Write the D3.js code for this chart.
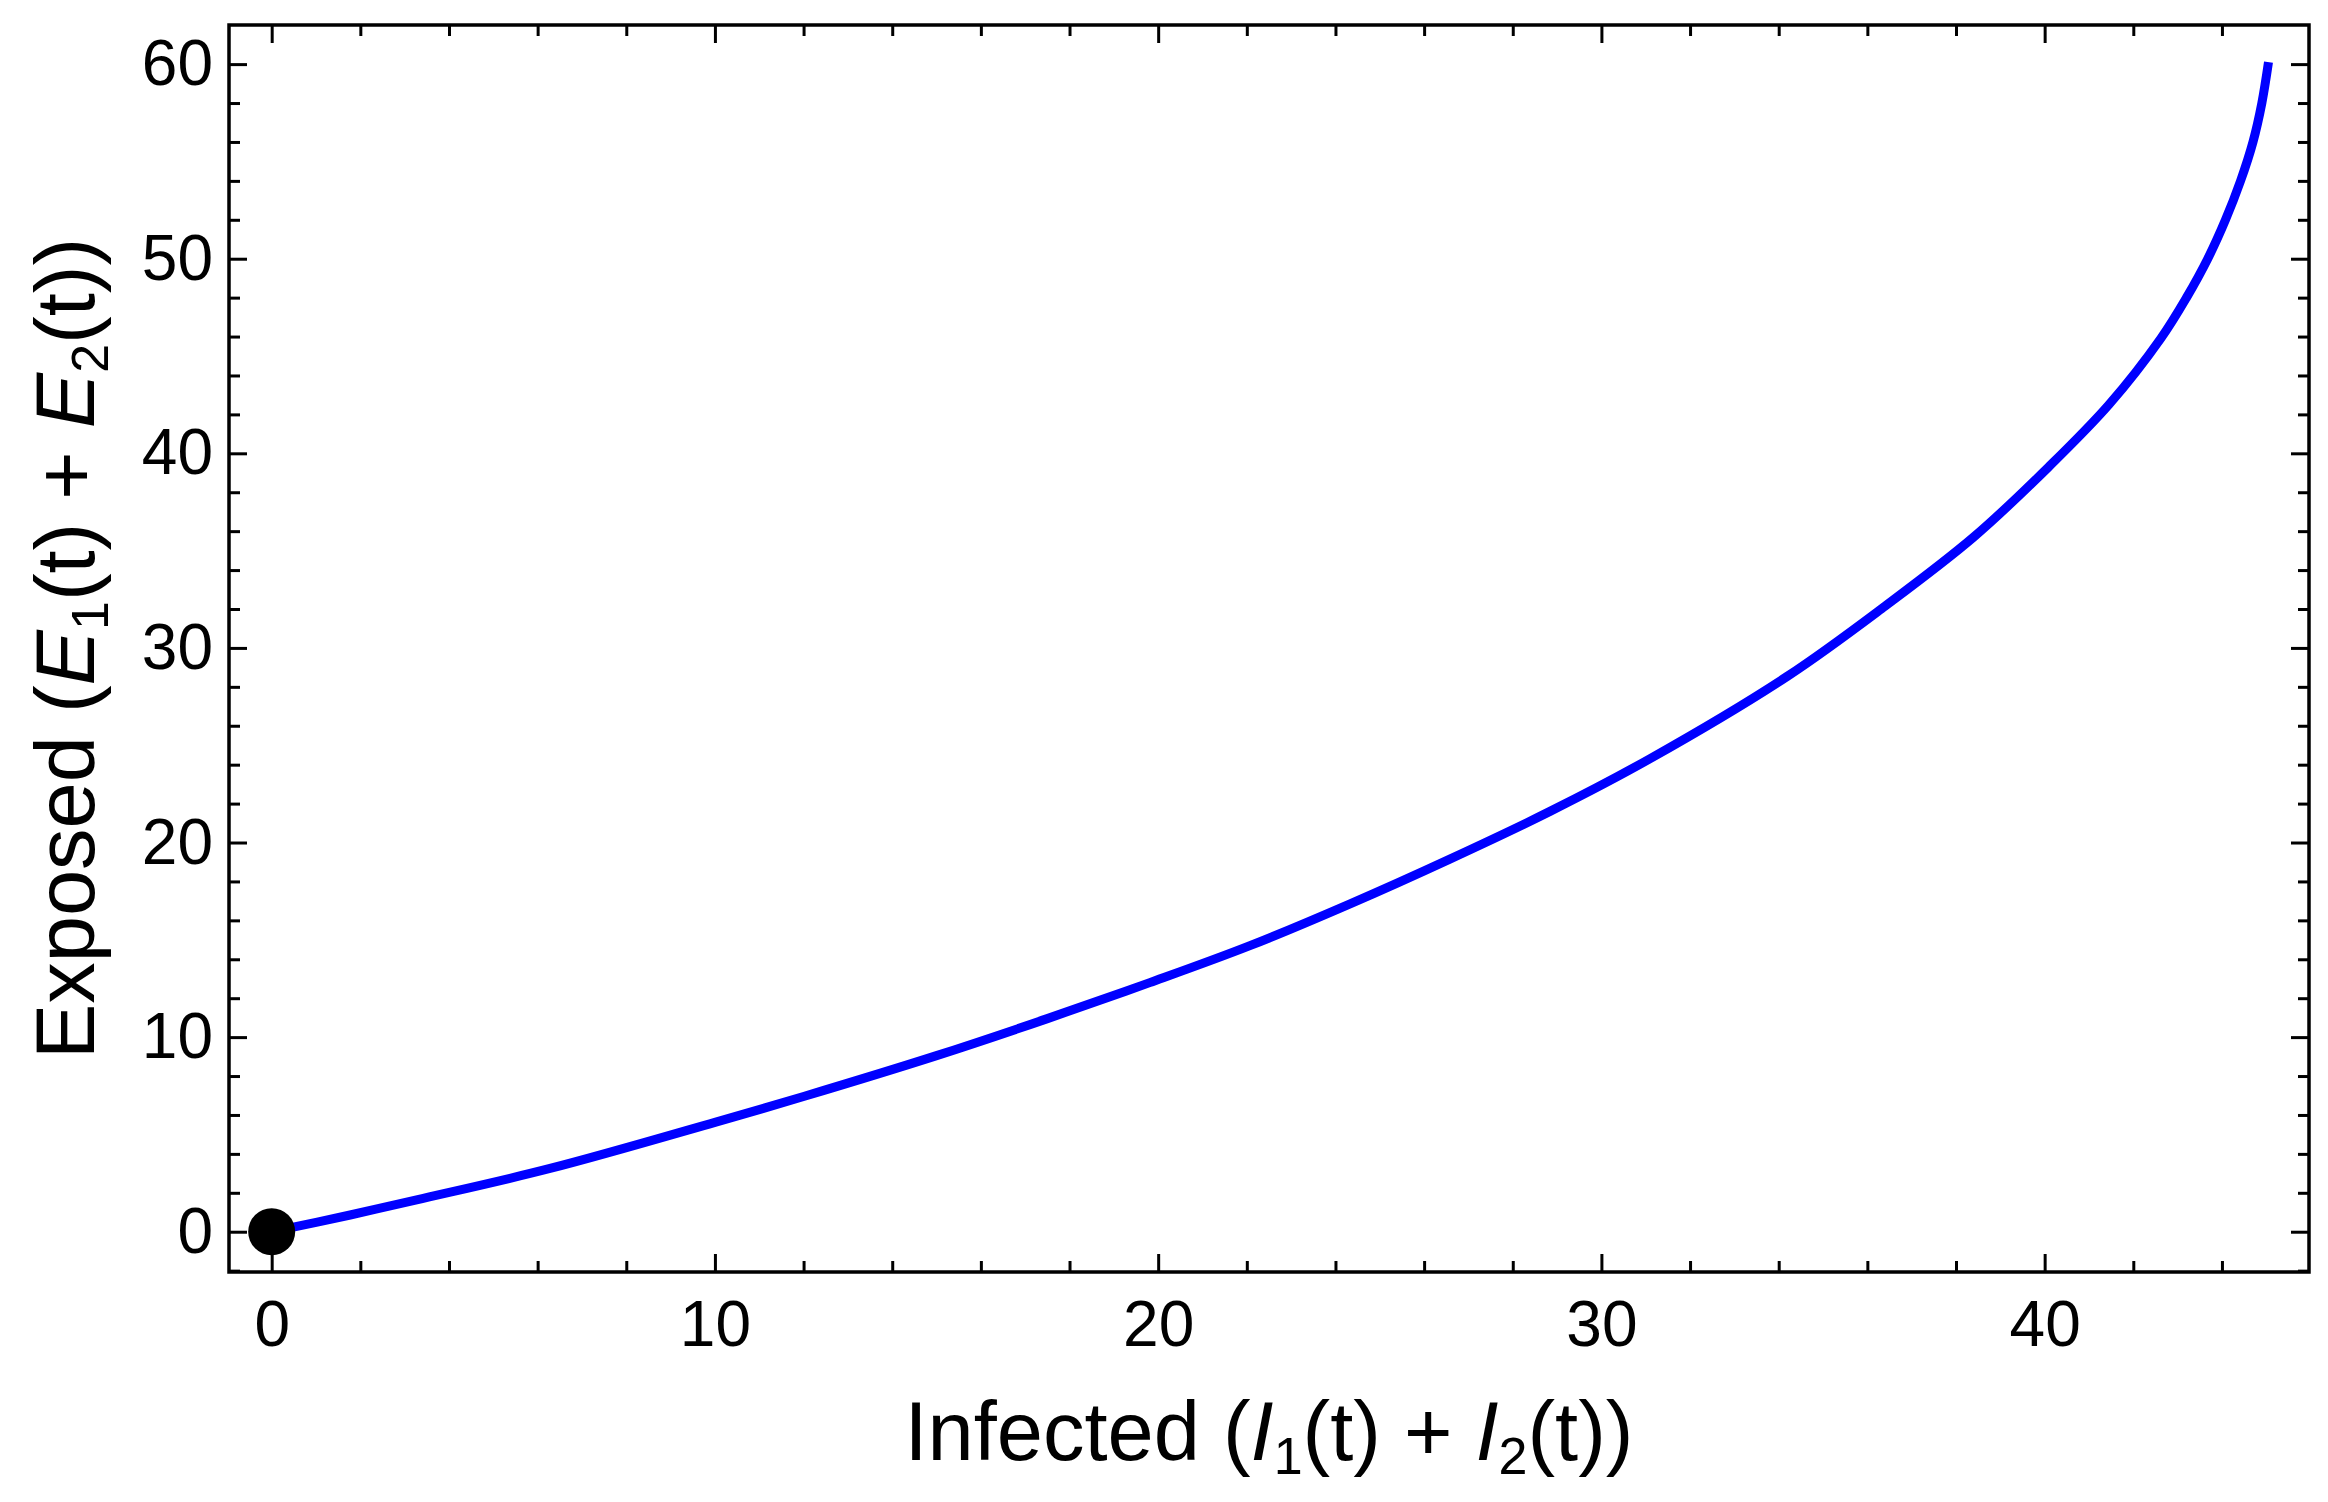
<!DOCTYPE html>
<html>
<head>
<meta charset="utf-8">
<script src="https://cdn.jsdelivr.net/npm/d3@7"></script>
<style>
  html, body { margin: 0; padding: 0; background: #ffffff; }
  svg { display: block; }
  text { font-family: "Liberation Sans", Arial, Helvetica, sans-serif; fill: #000; }
</style>
</head>
<body>
<svg id="chart"></svg>
<script>
// ---- Data ----
const infected = [0, 1.77, 3.27, 6.28, 10.0, 12.0, 15.0, 17.5, 19.81, 22.07, 24.33, 26.58, 28.84, 31.09,
                  34.2, 36.4, 38.4, 40.09, 41.45, 42.62, 43.2, 43.68, 44.08, 44.42, 44.7, 44.9, 45.05];
const exposed  = [0, 0.86, 1.64, 3.25, 5.62, 6.95, 9.05, 10.95, 12.8, 14.7, 16.85, 19.15, 21.6, 24.3,
                  28.55, 32.15, 35.7, 39.3, 42.5, 45.9, 48.0, 50.0, 52.0, 54.0, 56.0, 58.0, 60.1];
const startPoint = [0, 0];
const xMajorTicks = [0, 10, 20, 30, 40];
const xMinorTicks = [2, 4, 6, 8, 12, 14, 16, 18, 22, 24, 26, 28, 32, 34, 36, 38, 42, 44];
const yMajorTicks = [0, 10, 20, 30, 40, 50, 60];
const yMinorTicks = [-2, 2, 4, 6, 8, 12, 14, 16, 18, 22, 24, 26, 28, 32, 34, 36, 38, 42, 44, 46, 48, 52, 54, 56, 58];
const xDomain = [-0.963, 45.964];
const yDomain = [-2.07, 62.01];

// ---- Layout ----
const W = 2328, H = 1502;
const margin = { left: 229, right: 19, top: 25, bottom: 230 };
const iw = W - margin.left - margin.right;
const ih = H - margin.top - margin.bottom;

const svg = d3.select("#chart").attr("width", W).attr("height", H);
const g = svg.append("g").attr("transform", `translate(${margin.left},${margin.top})`);

const x = d3.scaleLinear().domain(xDomain).range([0, iw]);
const y = d3.scaleLinear().domain(yDomain).range([ih, 0]);

const MAJ = 18, MIN = 11, TICKW = 3;

function styleAxis(sel, fontSize) {
  sel.select(".domain").remove();
  sel.selectAll(".tick line").attr("stroke", "#000").attr("stroke-width", TICKW);
  sel.selectAll(".tick text").attr("font-size", fontSize).attr("fill", "#000")
     .style("font-family", '"Liberation Sans", Arial, sans-serif');
}

// bottom axis major with labels
g.append("g").attr("transform", `translate(0,${ih})`)
  .call(d3.axisBottom(x).tickValues(xMajorTicks).tickSize(-MAJ).tickPadding(28.6).tickFormat(d3.format("d")))
  .call(s => styleAxis(s, 64));
g.append("g").attr("transform", `translate(0,${ih})`)
  .call(d3.axisBottom(x).tickValues(xMinorTicks).tickSize(-MIN).tickFormat(""))
  .call(s => styleAxis(s, 64));
// top axis
g.append("g")
  .call(d3.axisTop(x).tickValues(xMajorTicks).tickSize(-MAJ).tickFormat(""))
  .call(s => styleAxis(s, 64));
g.append("g")
  .call(d3.axisTop(x).tickValues(xMinorTicks).tickSize(-MIN).tickFormat(""))
  .call(s => styleAxis(s, 64));
// left axis major with labels
g.append("g")
  .call(d3.axisLeft(y).tickValues(yMajorTicks).tickSize(-MAJ).tickPadding(16).tickFormat(d3.format("d")))
  .call(s => styleAxis(s, 64));
g.append("g")
  .call(d3.axisLeft(y).tickValues(yMinorTicks).tickSize(-MIN).tickFormat(""))
  .call(s => styleAxis(s, 64));
// right axis
g.append("g").attr("transform", `translate(${iw},0)`)
  .call(d3.axisRight(y).tickValues(yMajorTicks).tickSize(-MAJ).tickFormat(""))
  .call(s => styleAxis(s, 64));
g.append("g").attr("transform", `translate(${iw},0)`)
  .call(d3.axisRight(y).tickValues(yMinorTicks).tickSize(-MIN).tickFormat(""))
  .call(s => styleAxis(s, 64));

// frame
g.append("rect").attr("x", 0).attr("y", 0).attr("width", iw).attr("height", ih)
  .attr("fill", "none").attr("stroke", "#000").attr("stroke-width", 3.5);

// curve
const pts = infected.map((v, i) => [v, exposed[i]]);
const line = d3.line().x(d => x(d[0])).y(d => y(d[1])).curve(d3.curveCatmullRom.alpha(0.5));
g.append("path").datum(pts).attr("d", line)
  .attr("fill", "none").attr("stroke", "#0000ff").attr("stroke-width", 9)
  .attr("stroke-linejoin", "round").attr("stroke-linecap", "butt");

// start point
g.append("circle").attr("cx", x(startPoint[0])).attr("cy", y(startPoint[1])).attr("r", 23.5).attr("fill", "#000");

// x axis label
const SUB = 52, SDY = 14;
const xl = svg.append("text").attr("x", margin.left + iw / 2).attr("y", 1460)
  .attr("text-anchor", "middle").attr("font-size", 83);
xl.append("tspan").text("Infected (");
xl.append("tspan").attr("font-style", "italic").text("I");
xl.append("tspan").attr("font-size", SUB).attr("dy", SDY).text("1");
xl.append("tspan").attr("dy", -SDY).text("(t) + ");
xl.append("tspan").attr("font-style", "italic").text("I");
xl.append("tspan").attr("font-size", SUB).attr("dy", SDY).text("2");
xl.append("tspan").attr("dy", -SDY).text("(t))");

// y axis label
const yl = svg.append("text").attr("transform", `translate(94,${margin.top + ih / 2}) rotate(-90)`)
  .attr("text-anchor", "middle").attr("font-size", 83);
yl.append("tspan").text("Exposed (");
yl.append("tspan").attr("font-style", "italic").text("E");
yl.append("tspan").attr("font-size", SUB).attr("dy", SDY).text("1");
yl.append("tspan").attr("dy", -SDY).text("(t) + ");
yl.append("tspan").attr("font-style", "italic").text("E");
yl.append("tspan").attr("font-size", SUB).attr("dy", SDY).text("2");
yl.append("tspan").attr("dy", -SDY).text("(t))");
</script>
</body>
</html>
